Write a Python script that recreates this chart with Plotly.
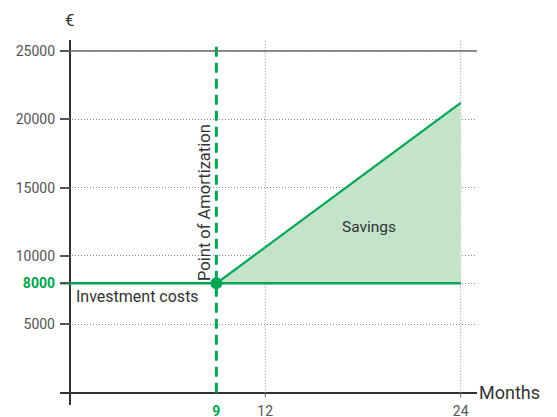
import plotly.graph_objects as go

# ---- data ----
months_break_even = 9
months_end = 24
investment_cost = 8000
savings_end_value = 21200
y_tick_vals = [5000, 8000, 10000, 15000, 20000, 25000]
y_tick_text = ["5000", "<span style='color:#00a651'><b>8000</b></span>", "10000", "15000", "20000", "25000"]
x_tick_vals = [9, 12, 24]
x_tick_text = ["<span style='color:#00a651'><b>9</b></span>", "12", "24"]
x_grid_vals = [12, 24]

# ---- styles ----
GREEN = "#00a651"
FILL = "#c3e4ca"
DARK = "#333333"
GRAY = "#555555"
GRID = "#8a8a8a"
FONT = "Roboto"

x_range = [-0.6, 25]
y_range = [-900, 25800]

fig = go.Figure()

# vertical dotted grid lines above the x axis
for v in x_grid_vals:
    fig.add_trace(go.Scatter(x=[v, v], y=[0, y_range[1]], mode="lines",
                             line=dict(color=GRID, width=1, dash="1px,2px"),
                             hoverinfo="skip", showlegend=False))
    fig.add_trace(go.Scatter(x=[v, v], y=[0, -350], mode="lines",
                             line=dict(color="#666666", width=1),
                             hoverinfo="skip", showlegend=False))

# solid top line at 25000
fig.add_shape(type="line", xref="paper", x0=0.02, x1=1, yref="y",
              y0=y_tick_vals[-1], y1=y_tick_vals[-1],
              line=dict(color="#6a6a6a", width=1.5), layer="above")

# savings area
fig.add_trace(go.Scatter(x=[months_break_even, months_end], y=[investment_cost, investment_cost],
                         mode="lines", line=dict(width=0), hoverinfo="skip", showlegend=False))
fig.add_trace(go.Scatter(x=[months_break_even, months_end], y=[investment_cost, savings_end_value],
                         mode="lines", fill="tonexty", fillcolor=FILL,
                         line=dict(color=GREEN, width=2.2), hoverinfo="skip", showlegend=False))

# investment cost line
fig.add_trace(go.Scatter(x=[x_range[0], months_end], y=[investment_cost, investment_cost],
                         mode="lines", line=dict(color=GREEN, width=2.5),
                         hoverinfo="skip", showlegend=False))

# amortization dashed line
fig.add_trace(go.Scatter(x=[months_break_even, months_break_even], y=[0, 25400],
                         mode="lines", line=dict(color=GREEN, width=3, dash="10px,6px"),
                         hoverinfo="skip", showlegend=False))

# amortization point
fig.add_trace(go.Scatter(x=[months_break_even], y=[investment_cost], mode="markers",
                         marker=dict(color=GREEN, size=12), hoverinfo="skip", showlegend=False))

fig.update_layout(
    width=557, height=417,
    margin=dict(l=52, r=88, t=32, b=20),
    paper_bgcolor="white", plot_bgcolor="white",
    font=dict(family=FONT, size=14, color=DARK),
    xaxis=dict(range=x_range, tickvals=x_tick_vals, ticktext=x_tick_text, automargin=False,
               showgrid=False, zeroline=True, zerolinecolor=DARK, zerolinewidth=2,
               showline=False, ticks="", ticklabelstandoff=-4,
               tickfont=dict(family=FONT, size=14, color=GRAY), fixedrange=True),
    yaxis=dict(range=y_range, tickvals=y_tick_vals, ticktext=y_tick_text, automargin=False,
               showgrid=True, gridcolor=GRID, griddash="1px,2px", gridwidth=1,
               zeroline=True, zerolinecolor=DARK, zerolinewidth=2,
               showline=False, ticks="inside", ticklen=10, tickwidth=1.5, tickcolor="#555555",
               ticklabelstandoff=4,
               tickfont=dict(family=FONT, size=14, color=GRAY), fixedrange=True),
    annotations=[
        dict(text="€", xref="x", x=0, yref="paper", y=1, yshift=20, xanchor="center",
             yanchor="middle", showarrow=False, font=dict(size=17, color=DARK)),
        dict(text="Months", xref="paper", x=1, xshift=0, yref="y", y=0, xanchor="left",
             yanchor="middle", showarrow=False, font=dict(size=18, color=DARK)),
        dict(text="Investment costs", xref="x", x=0.25, yref="y", y=7050, xanchor="left",
             yanchor="middle", showarrow=False, font=dict(size=16, color=DARK)),
        dict(text="Savings", xref="x", x=18.4, yref="y", y=12100, xanchor="center",
             yanchor="middle", showarrow=False, font=dict(size=15.5, color=DARK)),
        dict(text="Point of Amortization", xref="x", x=8.3, yref="y", y=13950, textangle=-90,
             xanchor="center", yanchor="middle", showarrow=False, font=dict(size=16.5, color=DARK)),
    ],
)

fig.write_html("out.html")
